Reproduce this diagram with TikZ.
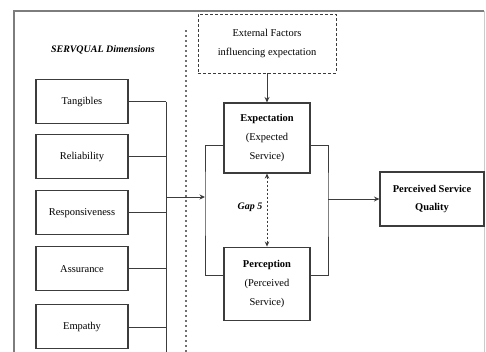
\documentclass[tikz,border=0pt]{standalone}
\usepackage{fontspec}
\setmainfont{Liberation Serif}
\usetikzlibrary{arrows.meta, positioning, calc}
\definecolor{cFrame}{RGB}{125,125,125}
\definecolor{cLine}{RGB}{60,60,60}
\tikzset{
	dimbox/.style ={rectangle, draw=cLine, line width=1.1bp, minimum width=92bp, minimum height=44bp, align=center, inner sep=1pt},
	gapbox/.style ={rectangle, draw=cLine, line width=1.1bp, minimum width=86bp, minimum height=71bp, align=center, inner sep=1pt},
	extbox/.style ={rectangle, draw=cLine, line width=0.9bp, dash pattern=on 3bp off 2bp, minimum width=138bp, minimum height=59bp, align=center},
	outbox/.style ={rectangle, draw=cLine, line width=1.1bp, minimum width=104bp, minimum height=54bp, align=center, inner sep=1pt},
	link/.style   ={draw=cLine, line width=0.8bp},
	sig/.style    ={-{Stealth[length=5.5bp, width=5bp]}, draw=cLine, line width=0.9bp},
	gapsig/.style ={{Stealth[length=5bp, width=4.5bp]}-{Stealth[length=5bp, width=4.5bp]}, draw=cLine, line width=0.8bp, dash pattern=on 2bp off 2bp},
}
\begin{document}
\begin{tikzpicture}[x=1bp, y=-1bp, font=\fontsize{10.5}{19}\selectfont, node distance=12bp]
	\useasboundingbox (0,0) rectangle (486,351);
	\draw[cFrame, line width=1.2bp] (14,360) -- (14,11) -- (484,11);
	\draw[cFrame!40, line width=0.8bp] (484,11) -- (484,360);
	\draw[cFrame!90!black, line width=1.1bp, dash pattern=on 2bp off 3bp] (186,30) -- (186,360);
	\node[font=\bfseries\itshape] (title) at (103,50) {SERVQUAL Dimensions};
	\node[dimbox] (tang) at (82,101.5) {Tangibles};
	\node[dimbox, below=10bp of tang] (reli) {Reliability};
	\node[dimbox, below=11bp of reli] (resp) {Responsiveness};
	\node[dimbox, below=11bp of resp] (assu) {Assurance};
	\node[dimbox, below=13bp of assu] (empa) {Empathy};
	\node[extbox] (ext) at (267,43.5) {External Factors\\ influencing expectation};
	\node[gapbox, minimum height=70bp] (exp) at (267,138) {\textbf{Expectation}\\ (Expected\\ Service)};
	\node[gapbox, below=73bp of exp, minimum height=73bp] (per) {\textbf{Perception}\\ (Perceived\\ Service)};
	\node[font=\bfseries\itshape] (gap) at (250,207) {Gap 5};
	\node[outbox] (psq) at (432,199) {\textbf{Perceived Service}\\ \textbf{Quality}};
	\coordinate (bus) at (166,360);
	\coordinate (lbk) at (205,197);
	\coordinate (rbk) at (328,199);
	\foreach \dm in {tang,reli,resp,assu,empa} \draw[link] (\dm.east) -- (\dm.east -| bus);
	\draw[link] (tang.east -| bus) -- (bus);
	\draw[sig] (lbk -| bus) -- (lbk);
	\draw[link] ([yshift=-7bp]exp.west) -| (lbk) |- ([yshift=8bp]per.west);
	\draw[link] ([yshift=-7bp]exp.east) -| (rbk) |- ([yshift=8bp]per.east);
	\draw[sig] (rbk) -- (psq.west);
	\draw[sig] (ext) -- (exp);
	\draw[gapsig] (exp) -- (per);
\end{tikzpicture}
\end{document}
